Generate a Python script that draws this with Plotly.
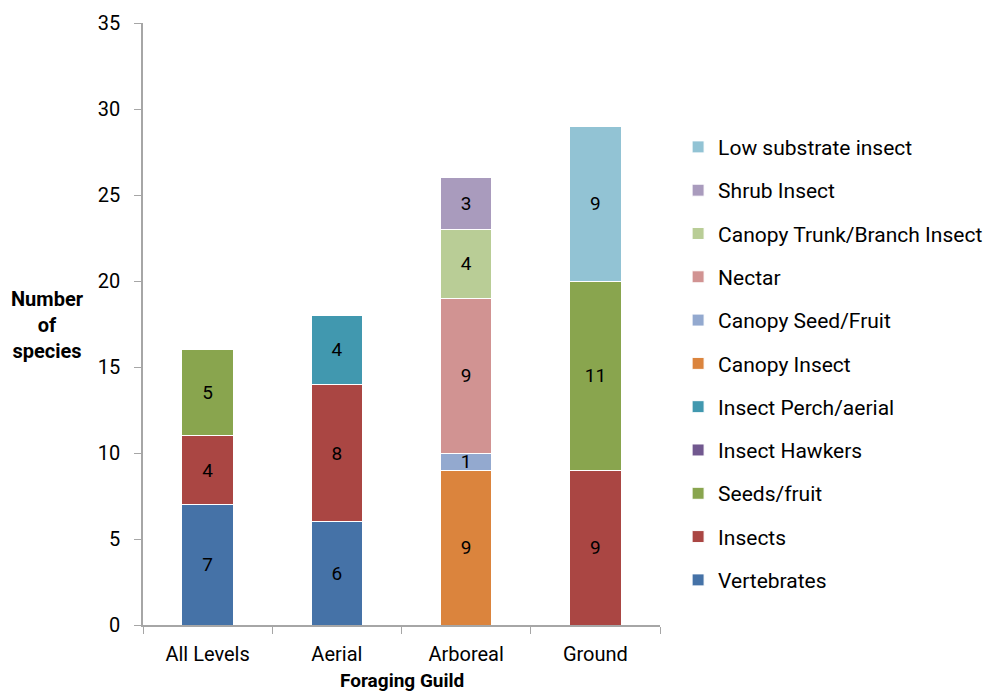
import plotly.graph_objects as go

categories = ["All Levels", "Aerial", "Arboreal", "Ground"]
series_names = ["Vertebrates", "Insects", "Seeds/fruit", "Insect Hawkers", "Insect Perch/aerial",
                "Canopy Insect", "Canopy Seed/Fruit", "Nectar", "Canopy Trunk/Branch Insect",
                "Shrub Insect", "Low substrate insect"]
vertebrates = [7, 6, None, None]
insects = [4, 8, None, 9]
seeds_fruit = [5, None, None, 11]
insect_hawkers = [None, None, None, None]
insect_perch = [None, 4, None, None]
canopy_insect = [None, None, 9, None]
canopy_seed = [None, None, 1, None]
nectar = [None, None, 9, None]
canopy_trunk = [None, None, 4, None]
shrub_insect = [None, None, 3, None]
low_substrate = [None, None, None, 9]
series_values = [vertebrates, insects, seeds_fruit, insect_hawkers, insect_perch, canopy_insect,
                 canopy_seed, nectar, canopy_trunk, shrub_insect, low_substrate]
colors = ["#4572A7", "#AA4643", "#89A54E", "#71588F", "#4198AF", "#DB843D",
          "#93A9CF", "#D19392", "#B9CD96", "#A99BBD", "#92C3D4"]

FONT = "Roboto"
fig = go.Figure()
n = len(series_names)
for i, (name, vals, col) in enumerate(zip(series_names, series_values, colors)):
    fig.add_trace(go.Bar(
        x=categories, y=vals, name=name, legendgroup=name, legendrank=100 + n - i,
        marker=dict(color=col, line=dict(color="white", width=1)),
        text=[("" if v is None else str(v)) for v in vals],
        textposition="inside", insidetextanchor="middle", textangle=0,
        constraintext="none", cliponaxis=False,
        textfont=dict(family=FONT, size=19, color="black"),
    ))

# page body has an 8px margin, so the figure is sized/offset to compensate
fig.update_layout(
    width=978, height=684,
    barmode="stack", bargap=0.6,
    paper_bgcolor="white", plot_bgcolor="white",
    margin=dict(l=135, r=326, t=15, b=67, autoexpand=False),
    font=dict(family=FONT, size=19, color="black"),
    legend=dict(traceorder="grouped", x=1.035, y=0.434, yanchor="middle", xanchor="left",
                font=dict(family=FONT, size=21), tracegroupgap=13, itemwidth=30),
)
fig.update_xaxes(showline=True, linecolor="#a6a6a6", linewidth=1.5, ticks="outside",
                 tickson="boundaries", ticklen=7, tickcolor="#a6a6a6", automargin=False,
                 tickfont=dict(family=FONT, size=20), ticklabelstandoff=10)
fig.update_yaxes(range=[0, 35], dtick=5, showgrid=False, showline=True, linecolor="#a6a6a6",
                 linewidth=1.5, ticks="outside", ticklen=7, tickcolor="#a6a6a6", automargin=False,
                 tickfont=dict(family=FONT, size=20), ticklabelstandoff=10, zeroline=False)
fig.add_annotation(text="<b>Number<br>of<br>species</b>", xref="paper", yref="paper",
                   x=-0.184, y=0.498, xanchor="center", yanchor="middle", showarrow=False,
                   align="center", font=dict(family=FONT, size=20))
fig.add_annotation(text="<b>Foraging Guild</b>", xref="paper", yref="paper",
                   x=0.5, y=-0.0914, xanchor="center", yanchor="middle", showarrow=False,
                   font=dict(family=FONT, size=19))
fig.write_html("out.html")
